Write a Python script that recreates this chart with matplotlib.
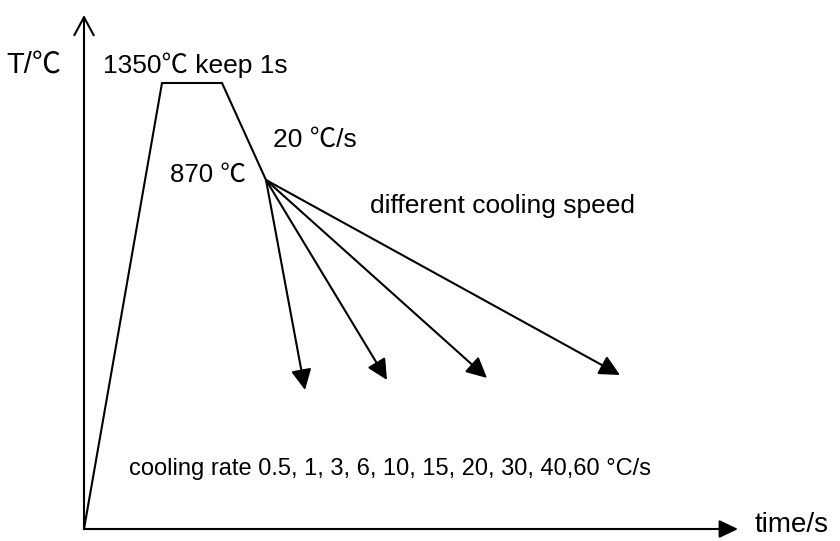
import matplotlib
matplotlib.use("Agg")
import matplotlib.pyplot as plt

plt.rcParams['font.family'] = ['Liberation Sans', 'Noto Sans CJK SC', 'DejaVu Sans']

# Schematic thermal cycle (arbitrary schematic units: time, temperature)
profile_time = [0, 78, 138, 182]
profile_temp = [0, 446, 446, 349]

# cooling branches starting from the 870 ℃ point
branch_start = (182, 349)
branch_end_time = [221, 303, 403, 536]
branch_end_temp = [139, 149, 151, 154]

axis_x_max = 654
axis_y_max = 514

labels = ["T/℃", "1350℃ keep 1s", "20 ℃/s", "870 ℃",
          "different cooling speed",
          "cooling rate 0.5, 1, 3, 6, 10, 15, 20, 30, 40,60 °C/s",
          "time/s"]
label_x = [-78, 19, 189, 86, 286, 45, 671]
label_y = [456, 456, 382, 347, 316, 54, -3]
label_size = [21, 19, 19, 18.5, 19, 17, 20]

fig = plt.figure(figsize=(8.4, 5.41), dpi=100)
ax = fig.add_axes([0, 0, 1, 1])
ax.set_xlim(-84, 756)
ax.set_ylim(-12, 529)
ax.axis('off')

lw = 1.5
# axes arrows
ax.annotate("", xy=(0, axis_y_max), xytext=(0, 0),
            arrowprops=dict(arrowstyle="->,head_length=1.3,head_width=0.7",
                            mutation_scale=10, lw=lw, color='black',
                            shrinkA=0, shrinkB=0))
ax.annotate("", xy=(axis_x_max, 0), xytext=(0, 0),
            arrowprops=dict(arrowstyle="-|>,head_length=1.15,head_width=0.55",
                            mutation_scale=10, lw=lw, color='black',
                            shrinkA=0, shrinkB=0))

# profile
ax.plot(profile_time, profile_temp, color='black', lw=lw, solid_joinstyle='miter')

# cooling branches
for tx, ty in zip(branch_end_time, branch_end_temp):
    ax.annotate("", xy=(tx, ty), xytext=branch_start,
                arrowprops=dict(arrowstyle="-|>,head_length=1.25,head_width=0.62",
                                mutation_scale=10, lw=lw, color='black',
                                shrinkA=0, shrinkB=0))

for s, x, y, fs in zip(labels, label_x, label_y, label_size):
    ax.text(x, y, s, fontsize=fs, ha='left', va='baseline', color='black')

fig.savefig("out.png", dpi=100)
